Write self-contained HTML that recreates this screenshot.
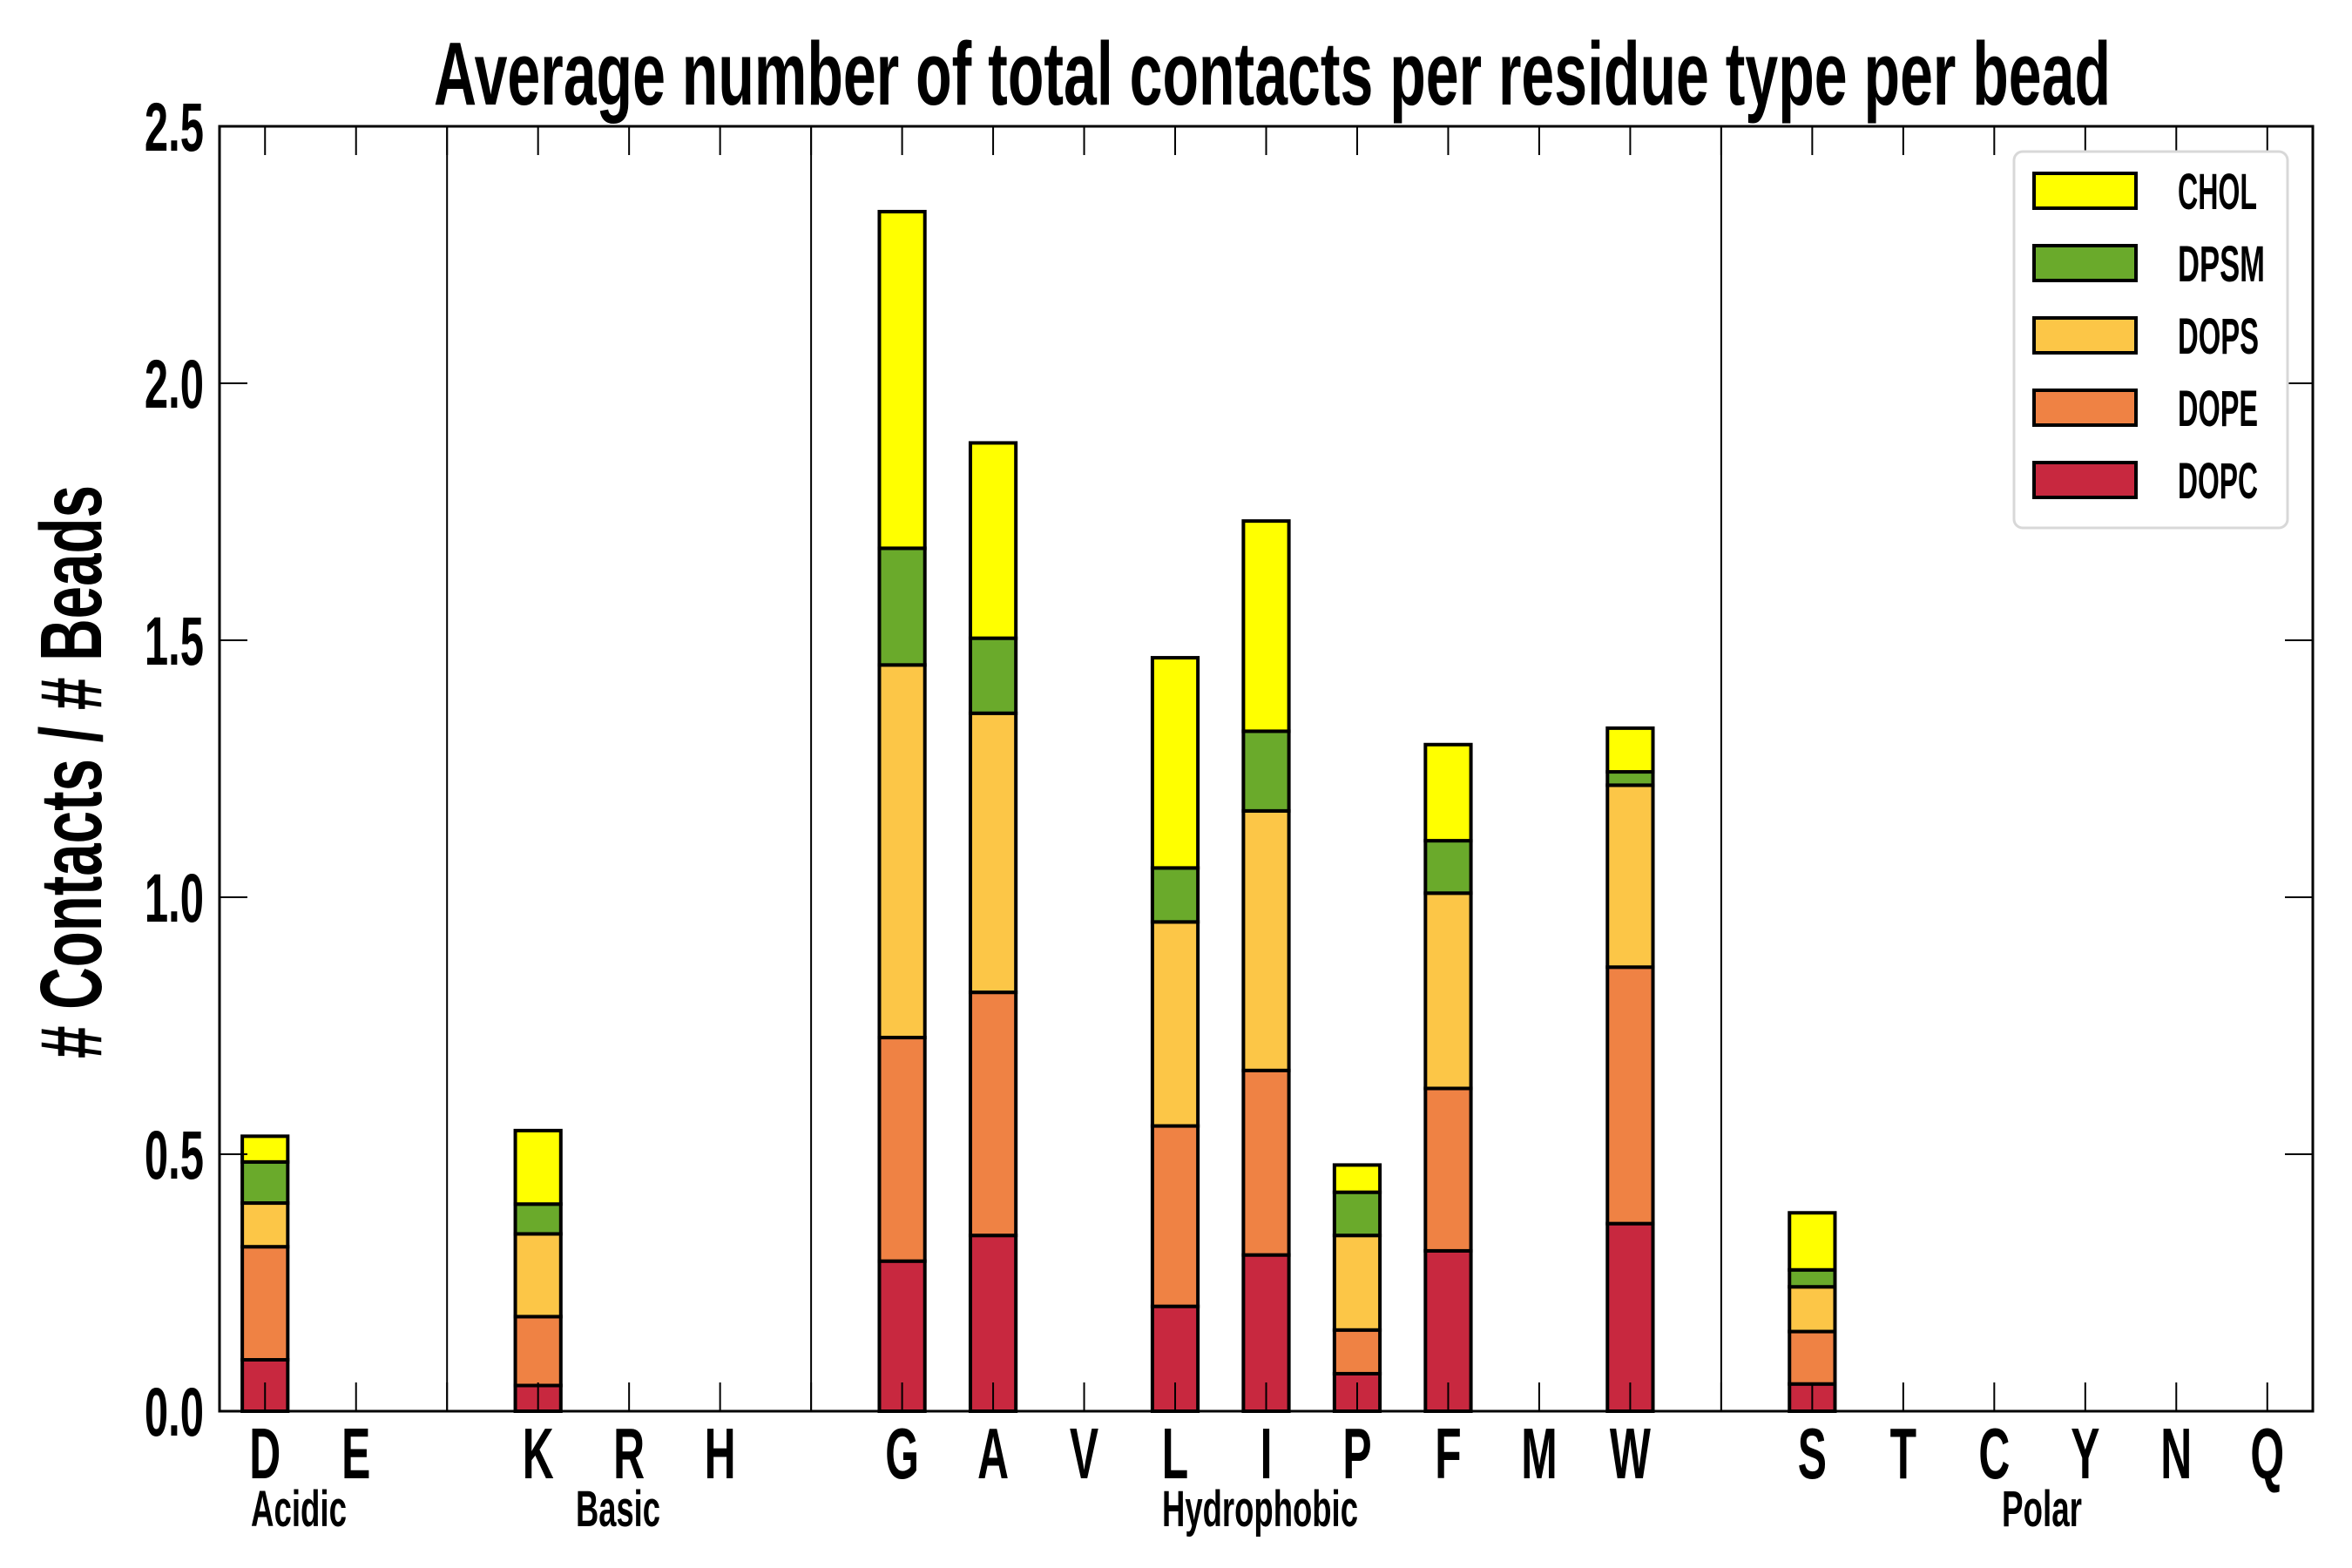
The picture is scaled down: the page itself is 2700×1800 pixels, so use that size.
<!DOCTYPE html>
<html><head><meta charset="utf-8"><style>
html,body{margin:0;padding:0;background:#fff;}
svg{display:block;}
text{font-family:"Liberation Sans",sans-serif;fill:#000;}
</style></head><body>
<svg id="chart" width="2700" height="1800" viewBox="0 0 2700 1800" xmlns="http://www.w3.org/2000/svg"></svg>
<script>
const categories = ["D","E","","K","R","H","","G","A","V","L","I","P","F","M","W","","S","T","C","Y","N","Q"];
const seriesNames = ["DOPC","DOPE","DOPS","DPSM","CHOL"];
const dopc = [0.10,0,0,0.05,0,0,0,0.292,0.342,0,0.204,0.304,0.073,0.312,0,0.365,0,0.053,0,0,0,0,0];
const dope = [0.22,0,0,0.134,0,0,0,0.435,0.473,0,0.351,0.359,0.085,0.316,0,0.499,0,0.102,0,0,0,0,0];
const dops = [0.085,0,0,0.161,0,0,0,0.725,0.543,0,0.397,0.505,0.184,0.38,0,0.354,0,0.087,0,0,0,0,0];
const dpsm = [0.08,0,0,0.058,0,0,0,0.227,0.146,0,0.105,0.155,0.084,0.102,0,0.026,0,0.033,0,0,0,0,0];
const chol = [0.05,0,0,0.143,0,0,0,0.655,0.38,0,0.409,0.409,0.053,0.187,0,0.085,0,0.111,0,0,0,0,0];
const yTicks = [0,0.5,1.0,1.5,2.0,2.5];
const yTickLabels = ["0.0","0.5","1.0","1.5","2.0","2.5"];
const separators = [2,6,16];
const groups = ["Acidic","Basic","Hydrophobic","Polar"];

const NS="http://www.w3.org/2000/svg";
const svg=document.getElementById('chart');
const L=252,R=2655,T=145,B=1620;
const yMax=2.5;
const step=(R-L)/categories.length;
function xPos(i){return L+step*(i+0.5);}
function yPos(v){return B-(v/yMax)*(B-T);}
const colors=["#c8283f","#ef8244","#fcc647","#6aaa2b","#ffff00"];
const series=[dopc,dope,dops,dpsm,chol];
function mk(tag,attrs){const e=document.createElementNS(NS,tag);for(const k in attrs)e.setAttribute(k,attrs[k]);return e;}
function txt(x,y,s,size,anchor,sx,weight){
  const t=mk('text',{x:0,y:0,'font-size':size,'text-anchor':anchor,'font-weight':weight||'bold',transform:`translate(${x},${y}) scale(${sx},1)`});
  t.textContent=s;svg.appendChild(t);return t;
}

separators.forEach(i=>{
  const l=mk('line',{x1:xPos(i),x2:xPos(i),y1:T,y2:B,stroke:'#000','stroke-width':2});
  
  
  svg.appendChild(l);
});

const bw=step*0.5;
categories.forEach((c,i)=>{
  let base=0;
  series.forEach((s,k)=>{
    const v=s[i];
    const y0=yPos(base),y1=yPos(base+v);
    const r=mk('rect',{x:xPos(i)-bw/2,y:y1,width:bw,height:Math.max(0,y0-y1),fill:colors[k],stroke:v>0?'#000':'#999','stroke-width':v>0?4:2});
    
    
    svg.appendChild(r);
    base+=v;
  });
});

categories.forEach((c,i)=>{
  const x=xPos(i);
  svg.appendChild(mk('line',{x1:x,x2:x,y1:B,y2:B-33,stroke:'#000','stroke-width':2}));
  svg.appendChild(mk('line',{x1:x,x2:x,y1:T,y2:T+33,stroke:'#000','stroke-width':2}));
  if(c){const t=txt(x,1697,c,83,'middle',0.6);
    
    }
});
yTicks.forEach((v,i)=>{
  const y=yPos(v);
  svg.appendChild(mk('line',{x1:L,x2:L+32,y1:y,y2:y,stroke:'#000','stroke-width':2}));
  svg.appendChild(mk('line',{x1:R,x2:R-32,y1:y,y2:y,stroke:'#000','stroke-width':2}));
  const t=txt(234,y+28,yTickLabels[i],79,'end',0.62);
  
  
});
const fr=mk('rect',{x:L,y:T,width:R-L,height:B-T,fill:'none',stroke:'#000','stroke-width':3});


svg.appendChild(fr);

const gx=[288,661,1334,2298], gw=[110,97,225,92];
groups.forEach((g,i)=>{
  const t=mk('text',{x:gx[i],y:1752,'font-size':58,'font-weight':'bold',textLength:gw[i],lengthAdjust:'spacingAndGlyphs'});
  t.textContent=g;
  
  
  svg.appendChild(t);
});

const title=mk('text',{x:498,y:120,'font-size':103,'font-weight':'bold',textLength:1925,lengthAdjust:'spacingAndGlyphs'});
title.textContent="Average number of total contacts per residue type per bead";


svg.appendChild(title);

const yt=mk('text',{x:0,y:0,'font-size':100,'font-weight':'bold','text-anchor':'middle',textLength:658,lengthAdjust:'spacingAndGlyphs',transform:'translate(116,886) rotate(-90)'});
yt.textContent="# Contacts / # Beads";


svg.appendChild(yt);

const lg=mk('g',{});


svg.appendChild(lg);
lg.appendChild(mk('rect',{x:2312,y:174,width:314,height:432,rx:10,fill:'#fff',stroke:'#d8d8d8','stroke-width':3}));
const legendOrder=[4,3,2,1,0];
legendOrder.forEach((k,j)=>{
  const cy=219+j*83;
  const g=mk('g',{});
  
  
  g.appendChild(mk('rect',{x:2335,y:cy-20,width:117,height:40,fill:colors[k],stroke:'#000','stroke-width':4}));
  const t=mk('text',{x:2500,y:cy+21,'font-size':58,'font-weight':'bold',textLength:[91,100,93,92,92][j],lengthAdjust:'spacingAndGlyphs'});
  t.textContent=seriesNames[k];
  g.appendChild(t);
  lg.appendChild(g);
});
</script>
</body></html>
